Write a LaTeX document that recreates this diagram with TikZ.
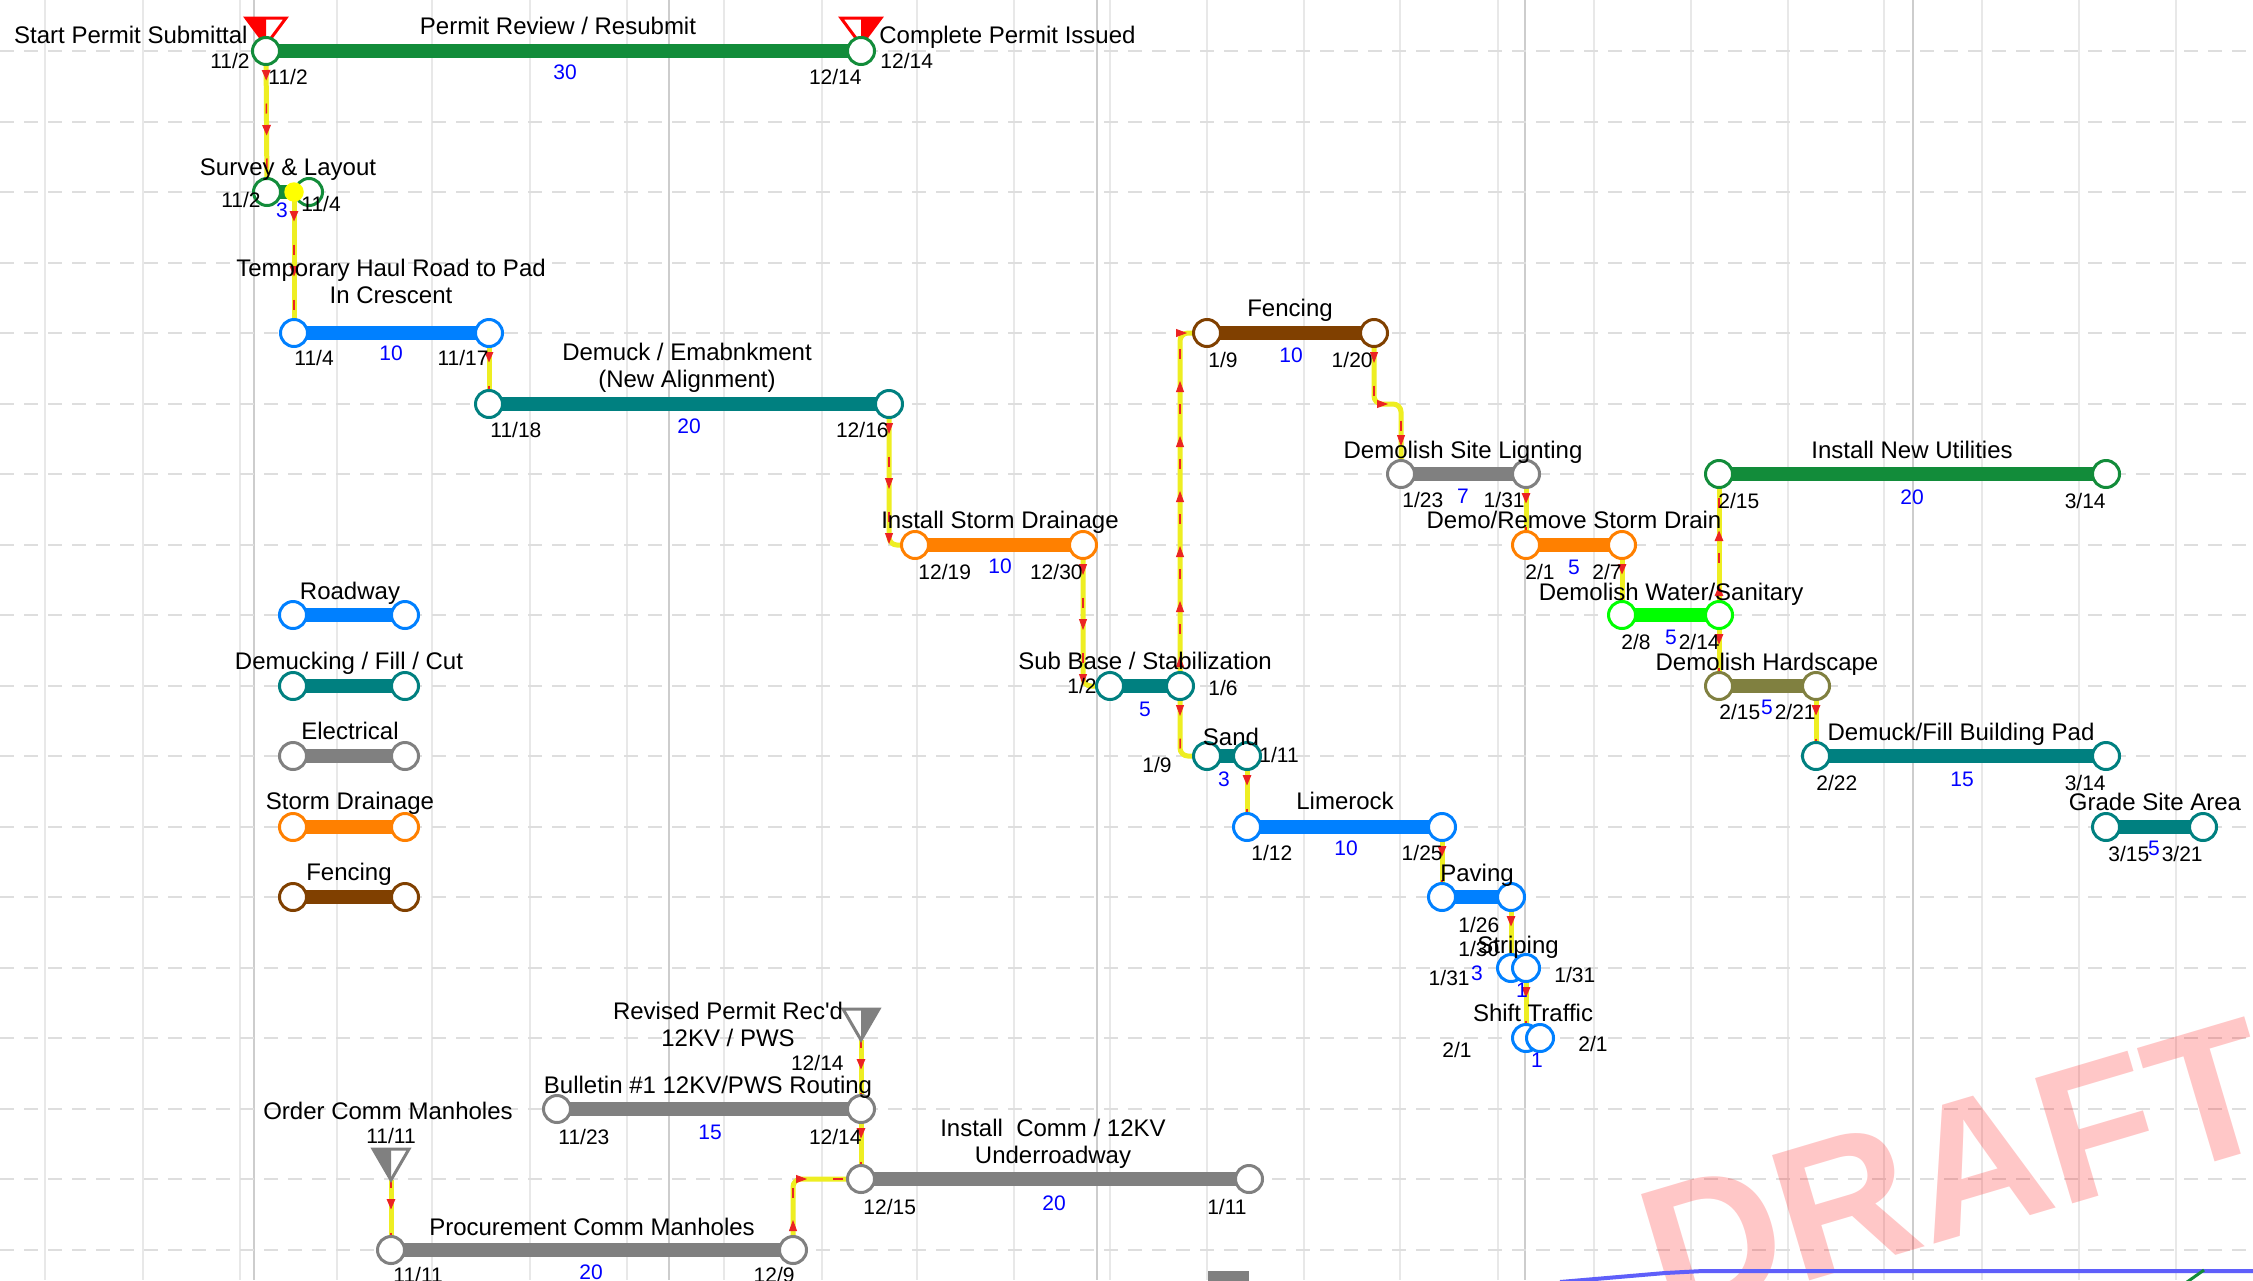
\documentclass[tikz,border=0pt]{standalone}
\usepackage{fontspec}
\setmainfont{Liberation Sans}
\usetikzlibrary{arrows.meta,decorations.markings}
\definecolor{cgreen}{RGB}{18,140,58}
\definecolor{cblue}{RGB}{0,128,255}
\definecolor{cteal}{RGB}{0,128,128}
\definecolor{cgray}{RGB}{128,128,128}
\definecolor{corange}{RGB}{255,128,0}
\definecolor{cbrown}{RGB}{128,64,0}
\definecolor{clime}{RGB}{0,255,0}
\definecolor{colive}{RGB}{128,128,64}
\definecolor{cyel}{RGB}{238,238,34}
\definecolor{cred}{RGB}{235,35,35}
\definecolor{cdot}{RGB}{255,255,0}
\definecolor{gridw}{RGB}{232,232,232}
\definecolor{gridm}{RGB}{205,205,205}
\definecolor{gridh}{RGB}{222,222,222}
\definecolor{cline}{RGB}{95,95,250}
\pgfdeclarelayer{gridl}
\pgfdeclarelayer{barl}
\pgfdeclarelayer{connl}
\pgfsetlayers{gridl,barl,connl,main}
\begin{document}
\begin{tikzpicture}[x=0.5pt,y=-0.5pt,
  hgrid/.style={draw=gridh, line width=1pt, dash pattern=on 7pt off 5pt},
  vgrid/.style={draw=gridw, line width=0.8pt},
  mgrid/.style={draw=gridm, line width=0.8pt},
  evt/.style={circle, draw=#1, fill=white, line width=1.5pt, minimum size=13.5pt, inner sep=0pt},
  bar/.style={draw=#1, line width=7pt},
  connline/.style={draw=cyel, line width=2.5pt, rounded corners=4pt,
    postaction={draw=cred, line width=0.75pt, dash pattern=on 5pt off 22.5pt, dash phase=1.25pt}},
  connarr/.style={decorate, decoration={markings,
      mark=between positions 15pt and -8pt step 27.5pt with {\arrow[color=cred]{Triangle[length=5.5pt,width=4pt]}}}},
  conn/.style={connline, postaction={connarr}},
  ttl/.style={font=\fontsize{12}{13.5}\selectfont, inner sep=0pt, text height=8.6pt, text depth=0pt, align=center},
  dt/.style={font=\fontsize{10.5}{12}\selectfont, inner sep=0pt, text height=7.5pt, text depth=0pt},
  dur/.style={dt, text=blue},
  draft/.style={anchor=base west, rotate=16.5, text=red, text opacity=0.22, inner sep=0pt,
    font=\fontsize{95}{100}\selectfont\bfseries},
  mstri/.style={draw=#1, line width=1.5pt, line join=miter}
]
\useasboundingbox (0,0) rectangle (2253,1280);

% ---------------- grid ----------------
\begin{pgfonlayer}{gridl}
\clip (0,0) rectangle (2253,1280);
\fill[white] (0,0) rectangle (2253,1280);
\foreach \xx in {45,143,240,337,432,530,627,724,822,917,1014,1110,1207,1304,1400,1498,1594,1691,1788,1884,1982,2079,2176}{\draw[vgrid] (\xx,0) -- (\xx,1280);}
\foreach \xx in {254,669,1097,1525,1913}{\draw[mgrid] (\xx,0) -- (\xx,1280);}
\foreach \k in {0,...,17}{\draw[hgrid] (0,{51+70.5*\k}) -- (2253,{51+70.5*\k});}
\end{pgfonlayer}

\begin{scope}
\clip (0,0) rectangle (2253,1280);
\node[draft] (draft) at (1666,1324) {DRAFT};
\draw[cline, line width=2pt] (1560,1282) -- (1665,1273) -- (1703,1271) -- (2260,1271);
\draw[cgreen, line width=1.5pt] (2187,1282) -- (2204,1270);
\fill[cgray] (1208,1271) rectangle (1249,1282);

% ---------------- event circles ----------------
\node[evt=cgreen] (ps) at (266,51) {};
\node[evt=cgreen] (pe) at (861,51) {};
\node[evt=cgreen] (ss) at (267,192) {};
\node[evt=cgreen] (se) at (309,192) {};
\node[evt=cblue] (hs) at (294,333) {};
\node[evt=cblue] (he) at (489,333) {};
\node[evt=cteal] (ds) at (489,404) {};
\node[evt=cteal] (de) at (889,404) {};
\node[evt=corange] (sds) at (915,545) {};
\node[evt=corange] (sde) at (1083,545) {};
\node[evt=cteal] (sbs) at (1110,686) {};
\node[evt=cteal] (sbe) at (1180,686) {};
\node[evt=cteal] (sas) at (1207,756) {};
\node[evt=cteal] (sae) at (1247,756) {};
\node[evt=cbrown] (fs) at (1207,333) {};
\node[evt=cbrown] (fe) at (1374,333) {};
\node[evt=cgray] (ls) at (1401,474) {};
\node[evt=cgray] (le) at (1526,474) {};
\node[evt=cblue] (lrs) at (1247,827) {};
\node[evt=cblue] (lre) at (1442,827) {};
\node[evt=cblue] (pvs) at (1442,897) {};
\node[evt=cblue] (pve) at (1511,897) {};
\node[evt=cblue] (sts) at (1511,968) {};
\node[evt=cblue] (ste) at (1526,968) {};
\node[evt=cblue] (shs) at (1526,1038) {};
\node[evt=cblue] (she) at (1540,1038) {};
\node[evt=corange] (rs) at (1526,545) {};
\node[evt=corange] (re) at (1622,545) {};
\node[evt=clime] (ws) at (1622,615) {};
\node[evt=clime] (we) at (1719,615) {};
\node[evt=cgreen] (us) at (1719,474) {};
\node[evt=cgreen] (ue) at (2106,474) {};
\node[evt=colive] (hds) at (1719,686) {};
\node[evt=colive] (hde) at (1816,686) {};
\node[evt=cteal] (bps) at (1816,756) {};
\node[evt=cteal] (bpe) at (2106,756) {};
\node[evt=cteal] (gs) at (2106,827) {};
\node[evt=cteal] (ge) at (2203,827) {};
\node[evt=cgray] (bs) at (557,1109) {};
\node[evt=cgray] (be) at (861,1109) {};
\node[evt=cgray] (cs) at (861,1179) {};
\node[evt=cgray] (ce) at (1249,1179) {};
\node[evt=cgray] (prs) at (391,1250) {};
\node[evt=cgray] (pre) at (793,1250) {};
% legend
\node[evt=cblue] (lg1a) at (293,615) {};
\node[evt=cblue] (lg1b) at (405,615) {};
\node[evt=cteal] (lg2a) at (293,686) {};
\node[evt=cteal] (lg2b) at (405,686) {};
\node[evt=cgray] (lg3a) at (293,756) {};
\node[evt=cgray] (lg3b) at (405,756) {};
\node[evt=corange] (lg4a) at (293,827) {};
\node[evt=corange] (lg4b) at (405,827) {};
\node[evt=cbrown] (lg5a) at (293,897) {};
\node[evt=cbrown] (lg5b) at (405,897) {};
% connection dot
\node[circle, fill=cdot, minimum size=9.75pt, inner sep=0pt] (yd) at (294,192) {};
\coordinate (rpa) at (861,1040);
\coordinate (oca) at (391,1180);
\coordinate (fcorner) at (1374,404);

% ---------------- labels ----------------
\node[ttl, anchor=east] (t1) at (248,35) {Start Permit Submittal};
\node[ttl] (t2) at (558,26) {Permit Review / Resubmit};
\node[ttl, anchor=west] (t3) at (879,35) {Complete Permit Issued};
\node[dt, anchor=east] at (250,61) {11/2};
\node[dt, anchor=west] at (268,77) {11/2};
\node[dur] at (565,72) {30};
\node[dt, anchor=east] at (862,77) {12/14};
\node[dt, anchor=west] at (880,61) {12/14};

\node[ttl] at (288,167) {Survey \& Layout};
\node[dt, anchor=east] at (261,200) {11/2};
\node[dt, anchor=west] at (301,204) {11/4};
\node[dur] at (282,210) {3};

\node[ttl] at (391,294.5) {Temporary Haul Road to Pad\\In Crescent};
\node[dt, anchor=west] at (294,358) {11/4};
\node[dur] at (391,353) {10};
\node[dt, anchor=east] at (489,358) {11/17};

\node[ttl] at (687,379) {Demuck / Emabnkment\\(New Alignment)};
\node[dt, anchor=west] at (490,430) {11/18};
\node[dur] at (689,426) {20};
\node[dt, anchor=east] at (889,430) {12/16};

\node[ttl] at (1000,520) {Install Storm Drainage};
\node[dt, anchor=west] at (918,572) {12/19};
\node[dur] at (1000,566) {10};
\node[dt, anchor=east] at (1083,572) {12/30};

\node[ttl] at (1145,661) {Sub Base / Stabilization};
\node[dt, anchor=east] at (1097,686) {1/2};
\node[dt, anchor=west] at (1208,688) {1/6};
\node[dur] at (1145,709) {5};

\node[ttl] at (1231,737) {Sand};
\node[dt, anchor=east] at (1172,765) {1/9};
\node[dt, anchor=west] at (1259,755) {1/11};
\node[dur] at (1224,779) {3};

\node[ttl] at (1290,308) {Fencing};
\node[dt, anchor=west] at (1208,360) {1/9};
\node[dur] at (1291,355) {10};
\node[dt, anchor=east] at (1373,360) {1/20};

\node[ttl] at (1463,450) {Demolish Site Lignting};
\node[dt, anchor=west] at (1402,500) {1/23};
\node[dur] at (1463,496) {7};
\node[dt, anchor=east] at (1525,500) {1/31};

\node[ttl] at (1345,801) {Limerock};
\node[dt, anchor=west] at (1251,853) {1/12};
\node[dur] at (1346,848) {10};
\node[dt, anchor=east] at (1443,853) {1/25};

\node[ttl] at (1574,520) {Demo/Remove Storm Drain};
\node[dt, anchor=west] at (1525,572) {2/1};
\node[dur] at (1574,567) {5};
\node[dt, anchor=east] at (1622,572) {2/7};

\node[ttl] at (1912,450) {Install New Utilities};
\node[dt, anchor=west] at (1718,501) {2/15};
\node[dur] at (1912,497) {20};
\node[dt, anchor=east] at (2106,501) {3/14};

\node[ttl] at (1671,592) {Demolish Water/Sanitary};
\node[dt, anchor=west] at (1621,642) {2/8};
\node[dur] at (1671,637) {5};
\node[dt, anchor=east] at (1720,642) {2/14};

\node[ttl] at (1767,662) {Demolish Hardscape};
\node[dt, anchor=west] at (1719,712) {2/15};
\node[dur] at (1767,707) {5};
\node[dt, anchor=east] at (1816,712) {2/21};

\node[ttl] at (1961,732) {Demuck/Fill Building Pad};
\node[dt, anchor=west] at (1816,783) {2/22};
\node[dur] at (1962,779) {15};
\node[dt, anchor=east] at (2106,783) {3/14};

\node[ttl] at (2155,802) {Grade Site Area};
\node[dt, anchor=west] at (2108,854) {3/15};
\node[dur] at (2154,848) {5};
\node[dt, anchor=east] at (2203,854) {3/21};

\node[ttl] at (1477,873) {Paving};
\node[dt, anchor=west] at (1458,925) {1/26};
\node[dt, anchor=west] at (1458,949) {1/30};
\node[dur] at (1477,973) {3};

\node[ttl] at (1518,945) {Striping};
\node[dt, anchor=east] at (1470,978) {1/31};
\node[dt, anchor=west] at (1554,975) {1/31};
\node[dur] at (1522,990) {1};

\node[ttl] at (1533,1013) {Shift Traffic};
\node[dt, anchor=east] at (1472,1050) {2/1};
\node[dt, anchor=west] at (1578,1044) {2/1};
\node[dur] at (1537,1060) {1};

\node[ttl] at (728,1038) {Revised Permit Rec\textquotesingle d\\12KV / PWS};
\node[dt, anchor=east] at (844,1063) {12/14};

\node[ttl] at (708,1085) {Bulletin \#1 12KV/PWS Routing};
\node[dt, anchor=west] at (558,1137) {11/23};
\node[dur] at (710,1132) {15};
\node[dt, anchor=east] at (862,1137) {12/14};

\node[ttl] at (388,1111) {Order Comm Manholes};
\node[dt] at (391,1136) {11/11};

\node[ttl] at (1053,1155) {Install\ \ Comm / 12KV\\Underroadway};
\node[dt, anchor=west] at (863,1207) {12/15};
\node[dur] at (1054,1203) {20};
\node[dt, anchor=east] at (1247,1207) {1/11};

\node[ttl] at (592,1227) {Procurement Comm Manholes};
\node[dt, anchor=west] at (393,1275) {11/11};
\node[dur] at (591,1272) {20};
\node[dt, anchor=east] at (795,1275) {12/9};

% legend labels
\node[ttl] at (350,591) {Roadway};
\node[ttl] at (349,661) {Demucking / Fill / Cut};
\node[ttl] at (350,731) {Electrical};
\node[ttl] at (350,801) {Storm Drainage};
\node[ttl] at (349,872) {Fencing};
\end{scope}

% ---------------- bars ----------------
\begin{pgfonlayer}{barl}
\draw[bar=cgreen] (ps.center) -- (pe.center);
\draw[bar=cgreen] (ss.center) -- (se.center);
\draw[bar=cblue] (hs.center) -- (he.center);
\draw[bar=cteal] (ds.center) -- (de.center);
\draw[bar=corange] (sds.center) -- (sde.center);
\draw[bar=cteal] (sbs.center) -- (sbe.center);
\draw[bar=cteal] (sas.center) -- (sae.center);
\draw[bar=cbrown] (fs.center) -- (fe.center);
\draw[bar=cgray] (ls.center) -- (le.center);
\draw[bar=cblue] (lrs.center) -- (lre.center);
\draw[bar=cblue] (pvs.center) -- (pve.center);
\draw[bar=cblue] (sts.center) -- (ste.center);
\draw[bar=cblue] (shs.center) -- (she.center);
\draw[bar=corange] (rs.center) -- (re.center);
\draw[bar=clime] (ws.center) -- (we.center);
\draw[bar=cgreen] (us.center) -- (ue.center);
\draw[bar=colive] (hds.center) -- (hde.center);
\draw[bar=cteal] (bps.center) -- (bpe.center);
\draw[bar=cteal] (gs.center) -- (ge.center);
\draw[bar=cgray] (bs.center) -- (be.center);
\draw[bar=cgray] (cs.center) -- (ce.center);
\draw[bar=cgray] (prs.center) -- (pre.center);
\draw[bar=cblue] (lg1a.center) -- (lg1b.center);
\draw[bar=cteal] (lg2a.center) -- (lg2b.center);
\draw[bar=cgray] (lg3a.center) -- (lg3b.center);
\draw[bar=corange] (lg4a.center) -- (lg4b.center);
\draw[bar=cbrown] (lg5a.center) -- (lg5b.center);
\end{pgfonlayer}

% ---------------- connectors and milestones ----------------
\begin{pgfonlayer}{connl}
\draw[conn] (ps.center) -- (ss.center);
\draw[conn] (yd.center) -- (hs.center);
\draw[conn] (he.center) -- (ds.center);
\draw[conn] (sae.center) -- (lrs.center);
\draw[conn] (lre.center) -- (pvs.center);
\draw[conn] (pve.center) -- (sts.center);
\draw[conn] (ste.center) -- (shs.center);
\draw[conn] (le.center) -- (rs.center);
\draw[conn] (re.center) -- (ws.center);
\draw[conn] (we.center) -- (us.center);
\draw[conn] (we.center) -- (hds.center);
\draw[conn] (hde.center) -- (bps.center);
\draw[conn] (rpa) -- (be.center);
\draw[conn] (be.center) -- (cs.center);
\draw[conn] (oca) -- (prs.center);
% connectors with rounded corners: line, then arrows on the same route
\draw[connline] (de.center) |- (sds.center);
\path[connarr] (de.center) |- (sds.center);
\draw[connline] (sde.center) |- (sbs.center);
\path[connarr] (sde.center) |- (sbs.center);
\draw[connline] (sbe.center) |- (fs.center);
\path[connarr] (sbe.center) |- (fs.center);
\draw[connline] (sbe.center) |- (sas.center);
\path[connarr] (sbe.center) |- (sas.center);
\draw[connline] (fe.center) -- (fcorner) -| (ls.center);
\path[connarr] (fe.center) -- (fcorner) -| (ls.center);
\draw[connline] (pre.center) |- (cs.center);
\path[connarr] (pre.center) |- (cs.center);
% milestone triangles
\fill[red] (246,18) -- (266,18) -- (266,45) -- cycle;
\draw[mstri=red] (246,18) -- (286,18) -- (266,45) -- cycle;
\fill[red] (861,18) -- (881,18) -- (861,45) -- cycle;
\draw[mstri=red] (841,18) -- (881,18) -- (861,45) -- cycle;
\fill[cgray] (861,1009) -- (879,1009) -- (861,1040) -- cycle;
\draw[mstri=cgray] (843,1009) -- (879,1009) -- (861,1040) -- cycle;
\fill[cgray] (373,1149) -- (391,1149) -- (391,1180) -- cycle;
\draw[mstri=cgray] (373,1149) -- (409,1149) -- (391,1180) -- cycle;
\end{pgfonlayer}
\end{tikzpicture}
\end{document}
